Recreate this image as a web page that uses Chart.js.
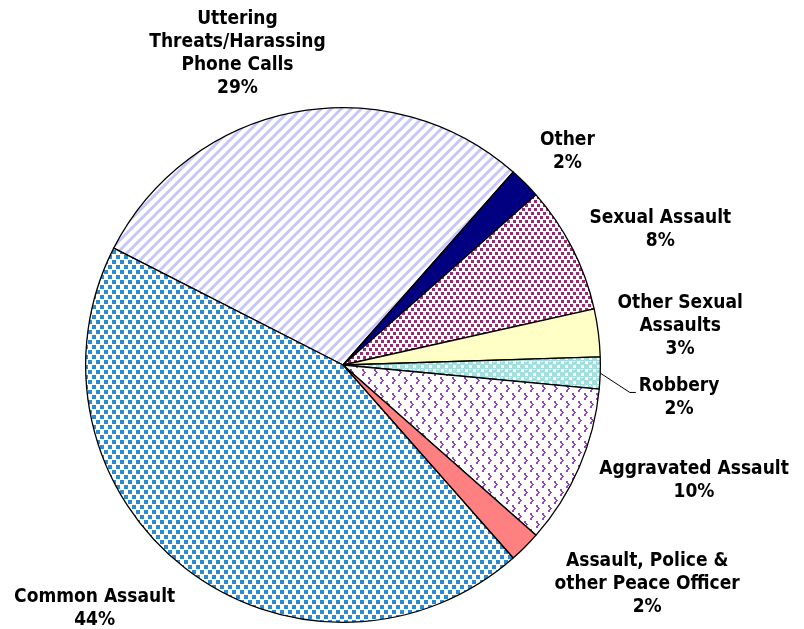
<!DOCTYPE html>
<html>
<head>
<meta charset="utf-8">
<script src="https://cdn.jsdelivr.net/npm/chart.js@4/dist/chart.umd.min.js"></script>
<style>
  html, body { margin: 0; padding: 0; background: #fff; }
  #wrap { width: 804px; height: 629px; }
</style>
</head>
<body>
<div id="wrap"><canvas id="myChart" width="804" height="629"></canvas></div>
<script>
// categories, clockwise from the left edge of the big striped slice
let categories = [
  ["Uttering", "Threats/Harassing", "Phone Calls"],
  ["Other"],
  ["Sexual Assault"],
  ["Other Sexual", "Assaults"],
  ["Robbery"],
  ["Aggravated Assault"],
  ["Assault, Police &", "other Peace Officer"],
  ["Common Assault"]
];
let shares = [29, 2, 8, 3, 2, 10, 2, 44];

// label block centres, relative to the pie centre, in pie radii
let labelOffsets = [
  [-0.41, -1.21], [0.872, -0.829], [1.233, -0.527], [1.31, -0.151],
  [1.306, 0.128], [1.364, 0.45], [1.182, 0.853], [-0.965, 0.946]
];

function makePattern(w, h, draw) {
  const c = document.createElement("canvas");
  c.width = w; c.height = h;
  const g = c.getContext("2d");
  draw(g);
  return document.getElementById("myChart").getContext("2d").createPattern(c, "repeat");
}

const stripes = makePattern(10, 10, function (g) {
  g.fillStyle = "#fff"; g.fillRect(0, 0, 10, 10);
  g.strokeStyle = "#c6c6f8"; g.lineWidth = 3;
  g.beginPath();
  g.moveTo(-2, 12); g.lineTo(12, -2);
  g.moveTo(-7, 7); g.lineTo(7, -7);
  g.moveTo(3, 17); g.lineTo(17, 3);
  g.stroke();
});
const dots = function (color, w, h, s) {
  return makePattern(w, h, function (g) {
    g.fillStyle = "#fff"; g.fillRect(0, 0, w, h);
    g.fillStyle = color;
    g.fillRect(0, 0, s, s);
    g.fillRect(w / 2, h / 2, s, s);
  });
};
const bubbles = makePattern(8, 8, function (g) {
  g.fillStyle = "#a3dfdf"; g.fillRect(0, 0, 8, 8);
  g.fillStyle = "#fff";
  g.fillRect(1, 1, 3, 3);
  g.fillRect(5, 5, 3, 3);
  g.fillStyle = "#e6f7f7";
  g.fillRect(5, 1, 2, 1);
});
const chevrons = makePattern(12, 16, function (g) {
  g.fillStyle = "#fff"; g.fillRect(0, 0, 12, 16);
  g.fillStyle = "#9446bf";
  function chev(x, y) {
    g.fillRect(x, y, 2, 2);
    g.fillRect(x + 1, y + 2, 2, 1);
    g.fillRect(x + 2, y + 3, 2, 1);
    g.fillRect(x + 1, y + 4, 2, 1);
    g.fillRect(x, y + 5, 2, 2);
  }
  chev(2, 1);
  chev(8, 9);
});

let sliceColors = [stripes, "#000080", dots("#942d6e", 6, 8, 3), "#ffffc6",
  bubbles, chevrons, "#ff8080", dots("#2a8bd0", 8, 10, 4)];

const labelPlugin = {
  id: "sliceLabels",
  afterDraw(chart) {
    const ctx = chart.ctx;
    const arcs = chart.getDatasetMeta(0).data;
    ctx.save();
    ctx.fillStyle = "#000";
    ctx.font = "bold 19px 'DejaVu Sans Condensed', 'DejaVu Sans', sans-serif";
    if ("fontStretch" in ctx) ctx.fontStretch = "condensed";
    ctx.textAlign = "center";
    ctx.textBaseline = "middle";
    const lh = 23;
    arcs.forEach(function (arc, i) {
      const r = arc.outerRadius;
      const cx = arc.x + labelOffsets[i][0] * r;
      const cy = arc.y + labelOffsets[i][1] * r;
      const lines = categories[i].concat([shares[i] + "%"]);
      const top = cy - (lines.length - 1) * lh / 2;
      lines.forEach(function (t, k) { ctx.fillText(t, cx, top + k * lh); });
      if (i === 4) {
        // leader line for the thin Robbery slice
        const mid = (arc.startAngle + arc.endAngle) / 2;
        const sx = arc.x + Math.cos(mid) * r, sy = arc.y + Math.sin(mid) * r;
        const w = ctx.measureText(categories[i][0]).width;
        const ex = cx - w / 2 - 3, ey = top + 6;
        ctx.strokeStyle = "#000"; ctx.lineWidth = 1;
        ctx.beginPath();
        ctx.moveTo(sx, sy); ctx.lineTo(ex - 6, ey); ctx.lineTo(ex, ey);
        ctx.stroke();
      }
    });
    ctx.restore();
  }
};

document.addEventListener("DOMContentLoaded", function () {
  const ctx = document.getElementById("myChart");
  new Chart(ctx, {
    type: "pie",
    data: {
      labels: categories.map(function (c) { return c.join(" "); }),
      datasets: [{
        data: shares,
        backgroundColor: sliceColors,
        borderColor: "#000",
        borderWidth: 1.3
      }]
    },
    options: {
      responsive: false,
      animation: false,
      rotation: -63,
      layout: { padding: { left: 85, right: 203, top: 107, bottom: 6 } },
      plugins: {
        legend: { display: false },
        tooltip: { enabled: false }
      }
    },
    plugins: [labelPlugin]
  });
});
</script>
</body>
</html>
